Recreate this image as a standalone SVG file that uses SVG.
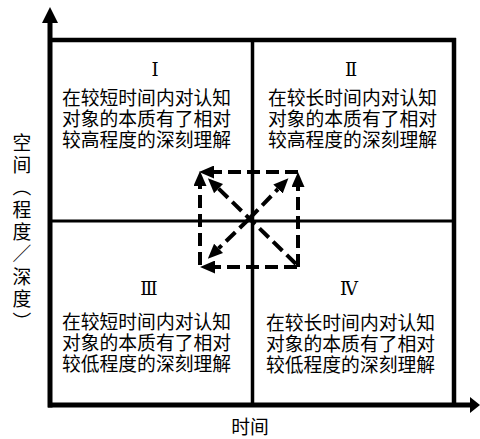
<svg xmlns="http://www.w3.org/2000/svg" width="480" height="439" viewBox="0 0 480 439">
<style>
.cn{font-family:"Noto Sans CJK SC","Noto Sans",sans-serif;font-size:18.8px;fill:#000}
.rn{font-family:"DejaVu Serif","Liberation Serif","Noto Sans CJK SC",serif;font-size:18px;fill:#000;text-anchor:middle}
.ln{stroke:#000;fill:none}
.dash{stroke:#000;stroke-width:4;fill:none;stroke-dasharray:13 6;marker-end:url(#ah)}
</style>
<defs>
<marker id="ah" markerUnits="userSpaceOnUse" viewBox="0 0 15 13" refX="0" refY="6.5" markerWidth="15" markerHeight="13" orient="auto">
<path d="M0,0 L15,6.5 L0,13 z" fill="#000"/>
</marker>
</defs>
<rect width="480" height="439" fill="#fff"/>
<g id="axes">
<line class="ln" x1="50" y1="407.5" x2="50" y2="22" stroke-width="5"/>
<polygon points="42,23 50,7 58,23" fill="#000"/>
<line class="ln" x1="48" y1="405" x2="471" y2="405" stroke-width="5"/>
<polygon points="470,397 480,405 470,413" fill="#000"/>
<line class="ln" x1="50" y1="40" x2="456" y2="40" stroke-width="4.5"/>
<line class="ln" x1="454" y1="38" x2="454" y2="405" stroke-width="4.5"/>
<line class="ln" x1="252.5" y1="40" x2="252.5" y2="405" stroke-width="3.5"/>
<line class="ln" x1="50" y1="221" x2="454" y2="221" stroke-width="3"/>
<text class="cn" x="22" y="133" style="writing-mode:vertical-rl;letter-spacing:3.6px">空间（程度／深度）</text>
<text class="cn" x="250" y="434" text-anchor="middle">时间</text>
</g>
<g id="q1">
<text class="rn" x="155" y="76">Ⅰ</text>
<text class="cn"><tspan x="62" y="105">在较短时间内对认知</tspan><tspan x="62" y="126">对象的本质有了相对</tspan><tspan x="62" y="147">较高程度的深刻理解</tspan></text>
</g>
<g id="q2">
<text class="rn" x="351" y="76">Ⅱ</text>
<text class="cn"><tspan x="268" y="105">在较长时间内对认知</tspan><tspan x="268" y="126">对象的本质有了相对</tspan><tspan x="268" y="147">较高程度的深刻理解</tspan></text>
</g>
<g id="q3">
<text class="rn" x="149" y="295">Ⅲ</text>
<text class="cn"><tspan x="62" y="329">在较短时间内对认知</tspan><tspan x="62" y="350">对象的本质有了相对</tspan><tspan x="62" y="371">较低程度的深刻理解</tspan></text>
</g>
<g id="q4">
<text class="rn" x="349" y="295">Ⅳ</text>
<text class="cn"><tspan x="266" y="330">在较长时间内对认知</tspan><tspan x="266" y="351">对象的本质有了相对</tspan><tspan x="266" y="372">较低程度的深刻理解</tspan></text>
</g>
<g id="connectors">
<path class="dash" d="M298,267 L298,187"/>
<path class="dash" d="M298,172 L214,172"/>
<path class="dash" d="M200,265 L200,186"/>
<path class="dash" d="M297,267 L215,267"/>
<path class="dash" d="M296,264 L218.6,188.6"/>
<path class="dash" d="M249,219 L278,189"/>
<path class="dash" d="M249,219 L218.6,248.4"/>
</g>
</svg>
